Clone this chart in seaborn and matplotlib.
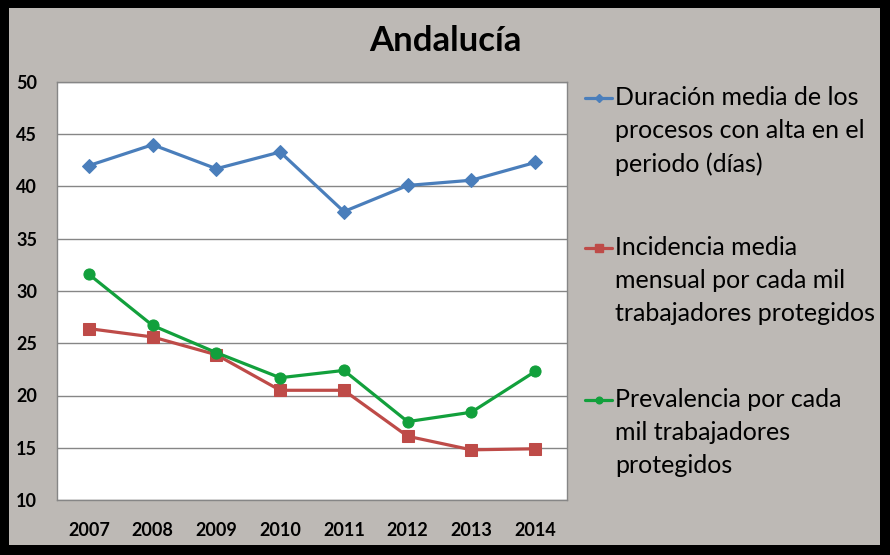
"""
Andalucía: duración, incidencia y prevalencia 2007-2014
"""

import matplotlib
matplotlib.use("Agg")
import matplotlib.pyplot as plt
from matplotlib.patches import FancyBboxPatch
from matplotlib.lines import Line2D
import pandas as pd
import seaborn as sns

# datos
years = ["2007", "2008", "2009", "2010", "2011", "2012", "2013", "2014"]
duracion = [42.0, 44.0, 41.7, 43.3, 37.6, 40.1, 40.6, 42.3]
incidencia = [26.4, 25.6, 23.9, 20.5, 20.5, 16.1, 14.8, 14.9]
prevalencia = [31.6, 26.7, 24.1, 21.7, 22.4, 17.5, 18.4, 22.3]

labels = [
    "Duración media de los\nprocesos con alta en el\nperiodo (días)",
    "Incidencia media\nmensual por cada mil\ntrabajadores protegidos",
    "Prevalencia por cada\nmil trabajadores\nprotegidos",
]
colors = ["#4A7EBB", "#BE4B48", "#12A03C"]
markers = ["D", "s", "o"]
msizes = [7, 9, 8]

sns.set_theme(style="white")
plt.rcParams["font.family"] = ["Lato", "DejaVu Sans"]

W, H = 890, 555
fig = plt.figure(figsize=(W / 100, H / 100), dpi=100)
fig.patch.set_facecolor("black")
# fondo gris con marco negro
fig.add_artist(FancyBboxPatch((9 / W, 10 / H), 871 / W, 537 / H,
                              boxstyle="square,pad=0", transform=fig.transFigure,
                              facecolor="#BDB9B5", edgecolor="none", zorder=-10))

ax = fig.add_axes([57 / W, 55 / H, 510 / W, 418 / H])
ax.set_facecolor("white")

df = pd.DataFrame({"year": years, "d": duracion, "i": incidencia, "p": prevalencia})
for col, c, m, ms in zip(["d", "i", "p"], colors, markers, msizes):
    sns.lineplot(data=df, x="year", y=col, ax=ax, color=c, marker=m,
                 markersize=ms, markeredgecolor=c, linewidth=2.3, legend=False)

ax.set_xlim(-0.5, len(years) - 0.5)
ax.set_ylim(10, 50)
ax.set_yticks(range(10, 51, 5))
ax.yaxis.grid(True, color="#868686", linewidth=1)
ax.set_axisbelow(True)
for s in ax.spines.values():
    s.set_color("#868686")
    s.set_linewidth(1)
ax.tick_params(axis="both", length=0, labelsize=13)
ax.tick_params(axis="y", pad=0)
ax.tick_params(axis="x", pad=16)
for t in ax.get_yticklabels():
    t.set_horizontalalignment("left")
    t.set_x(-0.08)
for t in ax.get_xticklabels() + ax.get_yticklabels():
    t.set_fontweight("bold")
    t.set_color("black")
ax.set_xlabel("")
ax.set_ylabel("")

fig.text(0.5, 1 - 41 / H, "Andalucía", ha="center", va="center",
         fontsize=25, fontweight="bold", color="black")

# leyenda a mano: el símbolo va a la altura de la primera línea del texto
for lab, c, m, ms, y0 in zip(labels, colors, markers, msizes, [98, 248, 400]):
    yf = 1 - y0 / H
    fig.add_artist(Line2D([585 / W, 612 / W], [yf, yf], transform=fig.transFigure,
                          color=c, linewidth=2.3))
    fig.add_artist(Line2D([598.5 / W], [yf], transform=fig.transFigure,
                          color=c, marker=m, markersize=ms * 0.6, markeredgecolor=c))
    fig.text(615 / W, 1 - (y0 - 12) / H, lab, ha="left", va="top",
             fontsize=18, linespacing=1.53, color="black")

fig.savefig("out.png", dpi=100, facecolor=fig.get_facecolor())
